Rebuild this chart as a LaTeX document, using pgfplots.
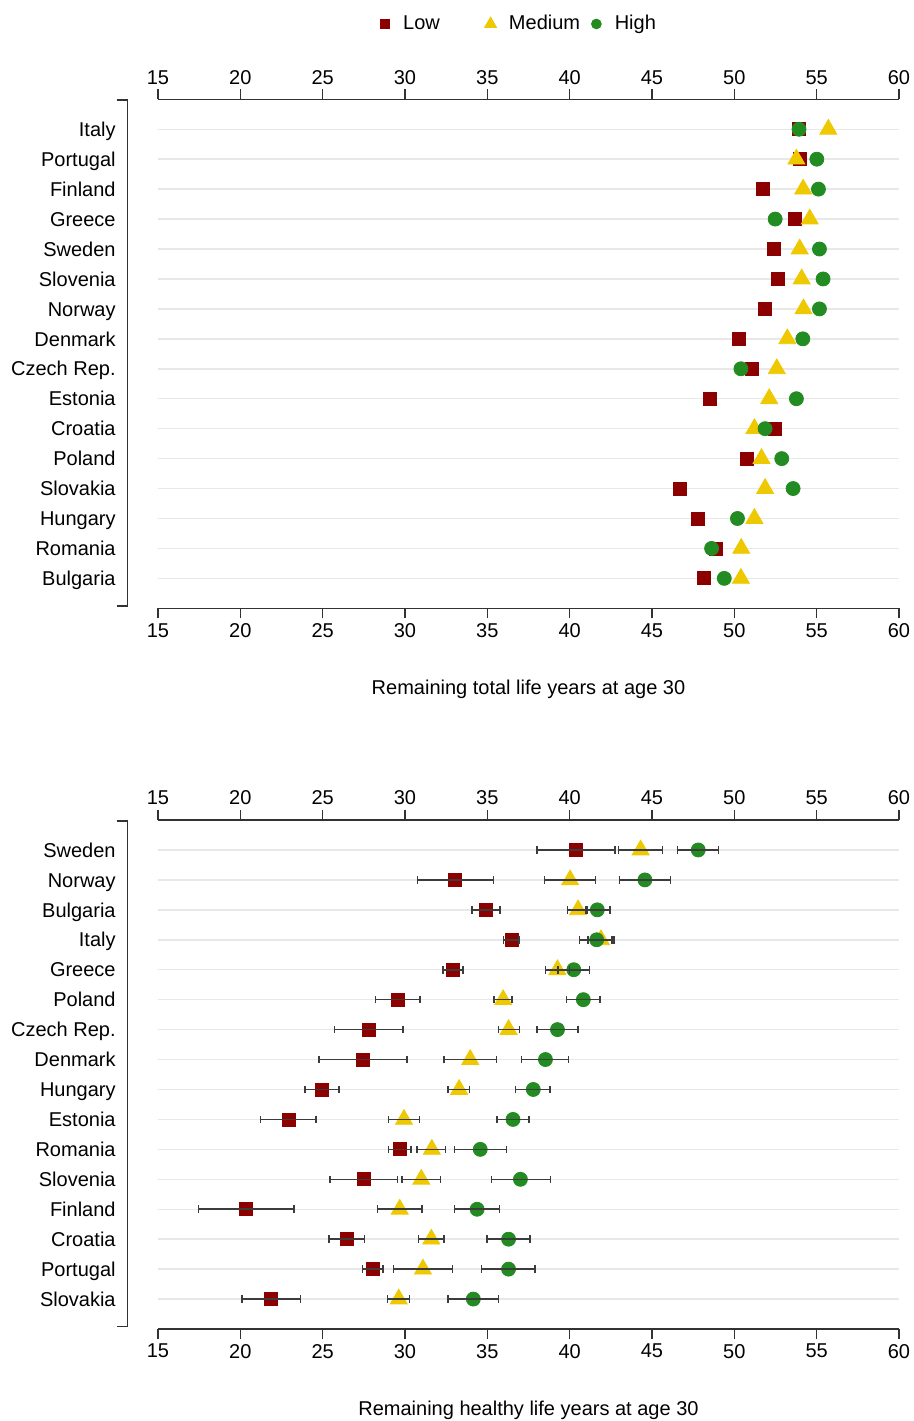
\documentclass[border=0pt]{standalone}
\usepackage{fontspec}
\setmainfont{Liberation Sans}
\usepackage{pgfplots}
\usepackage{pgfplotstable}
\pgfplotsset{compat=1.18}

\definecolor{lowred}{RGB}{140,0,0}
\definecolor{medgold}{RGB}{238,200,0}
\definecolor{higreen}{RGB}{34,139,34}
\definecolor{errgray}{RGB}{60,60,60}
\definecolor{gridgray}{RGB}{232,232,232}
\definecolor{axisgray}{RGB}{50,50,50}

% total life years at 30 (y: 16 = top row)
\pgfplotstableread{
y  low   med   high
16 53.90 55.71 53.93
15 53.97 53.77 55.01
14 51.73 54.18 55.11
13 53.67 54.58 52.48
12 52.40 53.97 55.17
11 52.62 54.09 55.39
10 51.85 54.20 55.17
9  50.29 53.22 54.16
8  51.06 52.58 50.40
7  48.52 52.12 53.77
6  52.44 51.22 51.87
5  50.74 51.65 52.88
4  46.70 51.87 53.57
3  47.81 51.22 50.19
2  48.87 50.42 48.62
1  48.17 50.40 49.39
}\totaltab

% healthy life years at 30, with confidence intervals
\pgfplotstableread{
y  l     llo   lhi   m     mlo   mhi   h     hlo   hhi
16 40.37 38.01 42.74 44.31 42.96 45.63 47.81 46.56 49.05
15 33.05 30.77 35.36 40.03 38.47 41.58 44.57 43.02 46.13
14 34.93 34.08 35.78 40.51 39.88 41.09 41.68 41.00 42.45
13 36.47 35.98 36.91 41.90 41.10 42.70 41.64 40.59 42.56
12 32.91 32.30 33.53 39.26 38.53 39.99 40.25 39.30 41.21
11 29.55 28.21 30.90 35.96 35.41 36.50 40.83 39.80 41.84
10 27.81 25.73 29.87 36.29 35.68 36.95 39.26 38.03 40.51
9  27.45 24.78 30.11 33.96 32.38 35.55 38.53 37.09 39.94
8  24.97 23.92 25.99 33.29 32.60 33.92 37.79 36.71 38.82
7  22.93 21.22 24.60 29.94 28.99 30.89 36.56 35.60 37.54
6  29.69 29.00 30.37 31.63 30.74 32.47 34.57 33.01 36.17
5  27.49 25.45 29.54 30.99 29.82 32.16 37.01 35.26 38.84
4  20.34 17.45 23.25 29.68 28.32 31.03 34.38 33.01 35.74
3  26.46 25.37 27.55 31.60 30.81 32.36 36.29 34.97 37.59
2  28.04 27.43 28.65 31.09 29.29 32.89 36.29 34.65 37.90
1  21.87 20.10 23.64 29.62 28.95 30.26 34.15 32.62 35.68
}\healthtab

\pgfplotsset{
  panel/.style={
    scale only axis, width=370.5pt, height=254.5pt,
    anchor=north west,
    xmin=15, xmax=60, ymin=0, ymax=17,
    xtick={15,20,...,60}, ytick={1,...,16},
    axis lines=box, separate axis lines,
    x axis line style={draw=axisgray, line width=0.75pt},
    y axis line style={draw=none},
    xtick pos=both, tick align=outside, major tick length=5pt,
    xtick style={draw=axisgray, line width=0.75pt},
    ytick style={draw=none},
    ymajorgrids, grid style={draw=gridgray, line width=0.75pt},
    /pgf/number format/assume math mode=true,
    yticklabel style={anchor=base east, inner sep=0pt, xshift=-16pt, yshift=-3.6pt},
    xticklabel style={yshift=1pt},
    xlabel style={at={(axis description cs:0.5,0)}, anchor=center, yshift=-40.5pt},
    clip=false,
  },
  % overlay axis: tick labels on top (and error bars drawn over the marks)
  toplabels/.style={
    panel, xticklabel pos=upper, axis line style={draw=none},
    xtick style={draw=none}, ymajorgrids=false, yticklabels={},
    xticklabel style={yshift=-2pt},
  },
  lowmk/.style={only marks, color=lowred, mark=square*, mark size=3.25pt},
  medmk/.style={only marks, color=medgold, mark=triangle*, mark size=4.9pt},
  himk/.style={only marks, color=higreen, mark=*, mark size=3.5pt},
  errs/.style={forget plot, draw=none, mark=none,
    error bars/.cd, x dir=both, x explicit,
    error bar style={draw=errgray, line width=0.8pt},
    error mark options={rotate=90, draw=errgray, mark size=1.9pt, line width=0.75pt}},
}

\begin{document}
\fontsize{10}{12}\selectfont
\begin{tikzpicture}
\useasboundingbox (0,0) rectangle (457pt,-710.5pt);

% ---- top panel ----
\begin{axis}[panel, at={(79pt,-49.65pt)},
  yticklabels={Bulgaria,Romania,Hungary,Slovakia,Poland,Croatia,Estonia,Czech Rep.,Denmark,Norway,Slovenia,Sweden,Greece,Finland,Portugal,Italy},
  xlabel={Remaining total life years at age 30},
  legend style={at={(0.482,1.148)}, anchor=center, draw=none, fill=none,
    legend columns=-1, /tikz/every even column/.append style={column sep=0.5pt}},
  legend image code/.code={\path (-7pt,0pt) (7pt,0pt);
    \draw[mark repeat=2,mark phase=2,#1] plot coordinates {(-5pt,0pt)(0pt,0pt)(5pt,0pt)};},
  legend image post style={mark options={scale=0.7}},
]
\addplot[lowmk] table[x=low, y=y] {\totaltab};
\addplot[medmk] table[x=med, y=y] {\totaltab};
\addplot[himk]  table[x=high, y=y] {\totaltab};
\legend{\makebox[34pt][l]{Low}, \makebox[34pt][l]{Medium}, High}
\end{axis}
\begin{axis}[toplabels, at={(79pt,-49.65pt)}]
\end{axis}
\draw[axisgray, line width=0.75pt] (58.35pt,-50pt) -- (63.85pt,-50pt) -- (63.85pt,-303pt) -- (58.35pt,-303pt);

% ---- bottom panel ----
\begin{axis}[panel, at={(79pt,-410pt)},
  yticklabels={Slovakia,Portugal,Croatia,Finland,Slovenia,Romania,Estonia,Hungary,Denmark,Czech Rep.,Poland,Greece,Italy,Bulgaria,Norway,Sweden},
  xlabel={Remaining healthy life years at age 30},
]
\addplot[lowmk] table[x=l, y=y] {\healthtab};
\addplot[medmk] table[x=m, y=y] {\healthtab};
\addplot[himk]  table[x=h, y=y] {\healthtab};
\end{axis}
\begin{axis}[toplabels, at={(79pt,-410pt)}]
\addplot[errs] table[x=l, y=y, x error plus expr=\thisrow{lhi}-\thisrow{l}, x error minus expr=\thisrow{l}-\thisrow{llo}] {\healthtab};
\addplot[errs] table[x=m, y=y, x error plus expr=\thisrow{mhi}-\thisrow{m}, x error minus expr=\thisrow{m}-\thisrow{mlo}] {\healthtab};
\addplot[errs] table[x=h, y=y, x error plus expr=\thisrow{hhi}-\thisrow{h}, x error minus expr=\thisrow{h}-\thisrow{hlo}] {\healthtab};
\end{axis}
\draw[axisgray, line width=0.75pt] (58.35pt,-410.5pt) -- (63.85pt,-410.5pt) -- (63.85pt,-663.35pt) -- (58.35pt,-663.35pt);
\end{tikzpicture}
\end{document}
